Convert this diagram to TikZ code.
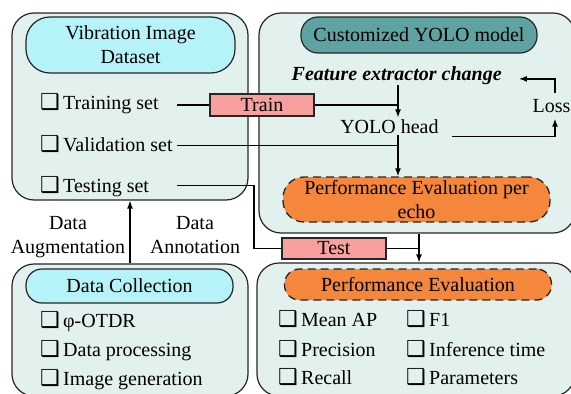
\documentclass[tikz,border=0pt]{standalone}
\usepackage{fontspec}
\setmainfont{Liberation Serif}
\newfontfamily\cbfont{DejaVu Sans}
\usetikzlibrary{arrows.meta}
\definecolor{panelbg}{HTML}{E2F0EE}
\definecolor{cyanhd}{HTML}{B5F3F9}
\definecolor{tealhd}{HTML}{5EA3A2}
\definecolor{orangehd}{HTML}{F5873D}
\definecolor{pinkbox}{HTML}{F7A09D}
\newcommand{\chkbx}{\makebox[23pt][l]{\cbfont\bfseries\fontsize{22}{22}\selectfont ❑}}
\begin{document}
\begin{tikzpicture}[x=1pt,y=-1pt,
  every node/.style={font=\fontsize{20}{24}\selectfont},
  panel/.style={draw=black!85, line width=1.2pt, rounded corners=22pt, fill=panelbg, inner sep=0},
  hdbase/.style={draw=black!85, line width=1.2pt, align=center, inner sep=0},
  hdcyan/.style={hdbase, fill=cyanhd},
  hdteal/.style={hdbase, fill=tealhd},
  hdorange/.style={hdbase, line width=1.3pt, dash pattern=on 8pt off 5pt, fill=orangehd},
  tagbox/.style={draw=black!85, line width=1.2pt, fill=pinkbox, inner sep=0},
  item/.style={anchor=base west, inner sep=0},
  lbl/.style={inner sep=1.5pt},
  conn/.style={line width=1.3pt},
  arr/.style={conn, -{Latex[length=8pt,width=6pt]}}
]
\useasboundingbox (0,0) rectangle (571,394);
\fill[white] (0,0) rectangle (571,394);
\begin{scope}
\clip (0,0) rectangle (571,394);
% panels
\node[panel, minimum width=236pt, minimum height=187pt] (P1) at (130,106.5) {};
\node[panel, minimum width=316pt, minimum height=220pt] (P2) at (417,123) {};
\node[panel, minimum width=236pt, minimum height=132pt] (P3) at (130,330) {};
\node[panel, minimum width=318pt, minimum height=133pt] (P4) at (416,329.5) {};
% headers
\node[hdcyan, minimum width=209pt, minimum height=56pt, rounded corners=24pt] (H1) at (130.5,45) {Vibration Image\\Dataset};
\node[hdteal, minimum width=236pt, minimum height=36pt, rounded corners=17pt] (H2) at (419,35) {Customized YOLO model};
\node[hdorange, minimum width=267pt, minimum height=45pt, rounded corners=21pt] (E1) at (416.5,199.5) {Performance Evaluation per\\echo};
\node[hdcyan, minimum width=207pt, minimum height=34pt, rounded corners=16pt] (H3) at (129.5,286) {Data Collection};
\node[hdorange, minimum width=267pt, minimum height=31pt, rounded corners=15pt] (E2) at (418,284.5) {Performance Evaluation};
% tag boxes
\node[tagbox, minimum width=104pt, minimum height=22pt] (train) at (262,105) {Train};
\node[tagbox, minimum width=104pt, minimum height=21pt] (test) at (334,248.5) {Test};
% items
\node[item] (trn) at (40,109.3) {\chkbx Training set};
\node[item] (val) at (40,151.7) {\chkbx Validation set};
\node[item] (tst) at (40,192.7) {\chkbx Testing set};
\node[item] (otdr) at (40,327.3) {\chkbx φ-OTDR};
\node[item] (dproc) at (40,356.7) {\chkbx Data processing};
\node[item] (igen) at (40,385) {\chkbx Image generation};
\node[item] (map) at (278,326.7) {\chkbx Mean AP};
\node[item] (prec) at (278,356) {\chkbx Precision};
\node[item] (rec) at (278,384.3) {\chkbx Recall};
\node[item] (f1) at (406,326.7) {\chkbx F1};
\node[item] (inf) at (406,356) {\chkbx Inference time};
\node[item] (par) at (406,384.3) {\chkbx Parameters};
% labels
\node[inner sep=0, anchor=base, font=\fontsize{20}{24}\selectfont\bfseries\itshape] (fec) at (396.7,80.7) {Feature extractor change};
\node[lbl, anchor=base] (yolo) at (389.4,133) {YOLO head};
\node[inner sep=6pt, anchor=base] (loss) at (551.5,112.3) {Loss};
\node[lbl, align=center] (aug) at (68,237.6) {Data\\Augmentation};
\node[lbl, align=center] (ann) at (195,235.4) {Data\\Annotation};
% helper coordinates
\coordinate (lx) at (177,0);
\coordinate (ax) at (398,0);
\coordinate (tx) at (254,0);
\coordinate (ex) at (419,0);
\coordinate (lossx) at (555,0);
\coordinate (vy) at ([yshift=6pt]val.base);
\coordinate (ty) at ([yshift=7pt]tst.base);
% connectors
\draw[conn] (train.west -| lx) -- (train.west);
\draw[conn] (train.east) -- (train.east -| ax);
\draw[arr] (fec.south -| ax) -- (yolo.north -| ax);
\draw[conn] (vy -| lx) -- (vy -| ax);
\draw[arr] (yolo.south -| ax) -- (E1.north -| ax);
\draw[arr] ([xshift=11.5pt,yshift=-1.5pt]yolo.south east) -| (loss.south -| lossx);
\draw[arr] (loss.north -| lossx) |- ([xshift=17pt,yshift=-3pt]fec.east);
\draw[conn] (ty -| lx) -| (test.west -| tx) -- (test.west);
\draw[conn] (test.east) -- (test.east -| ex);
\draw[arr] (P2.south -| ex) -- (P4.north -| ex);
\draw[arr] (P3.north) -- (P1.south);
\end{scope}
\end{tikzpicture}
\end{document}
